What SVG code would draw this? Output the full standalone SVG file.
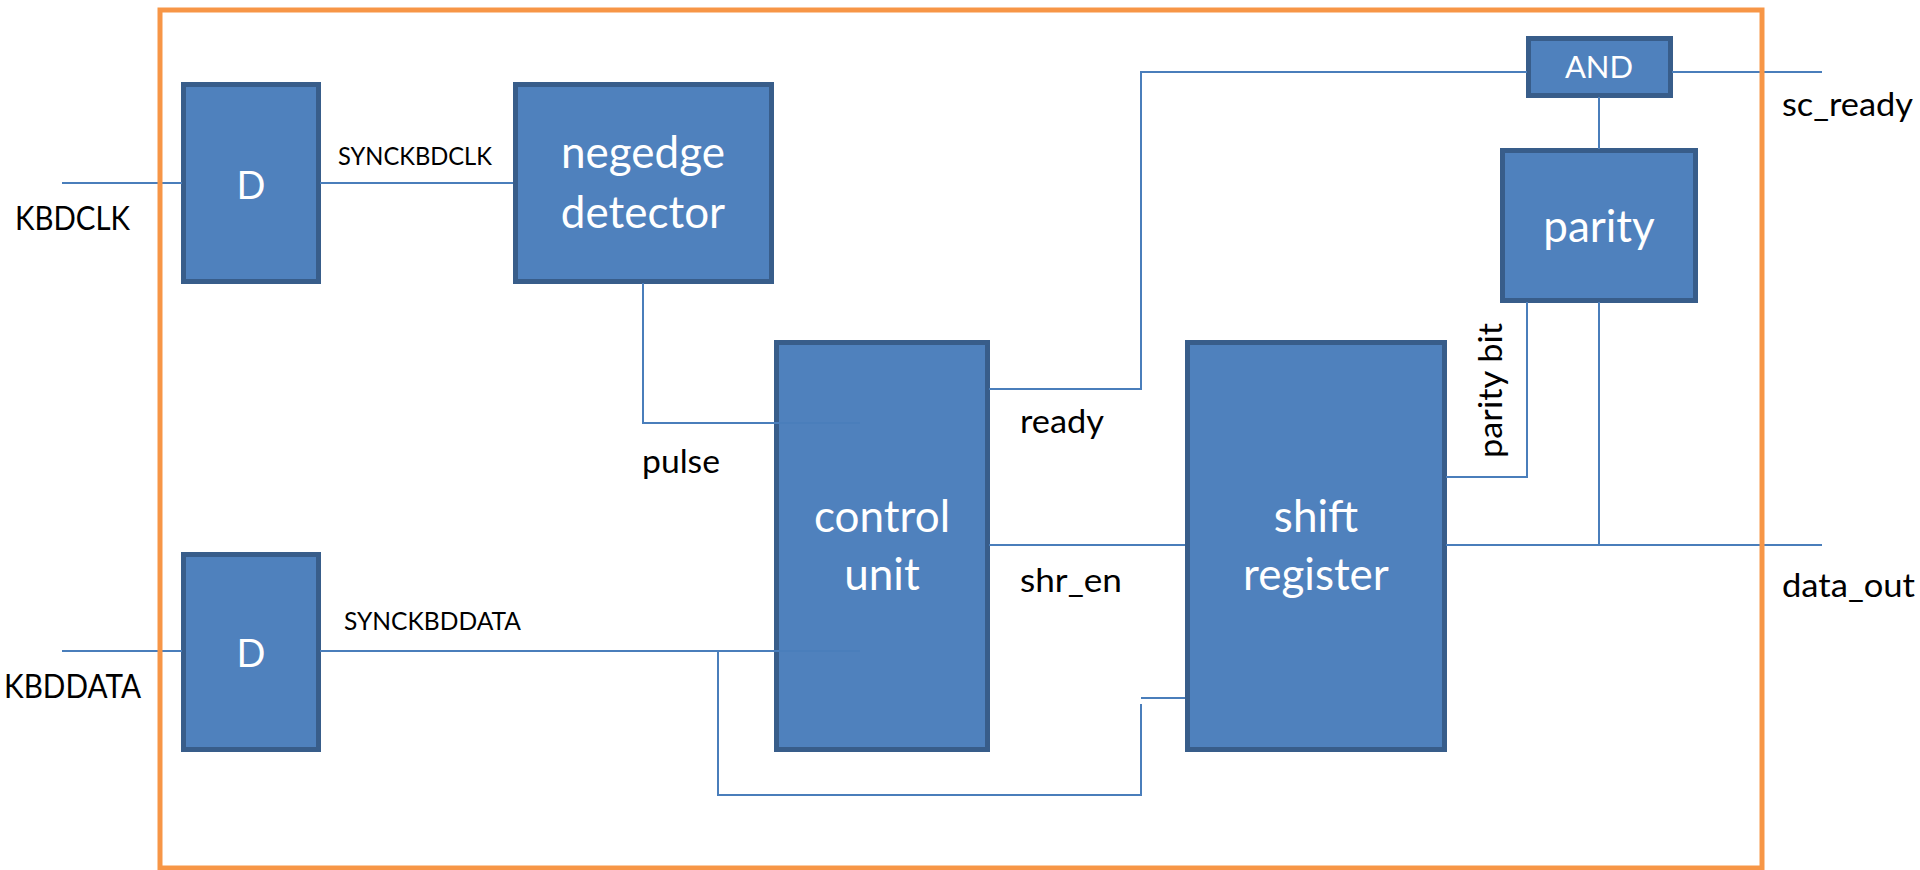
<svg xmlns="http://www.w3.org/2000/svg" width="1920" height="870" viewBox="0 0 1920 870">
  <style>
    .block { fill: #4F81BD; stroke: #385D8A; stroke-width: 5; }
    .btxt { fill: #FFFFFF; font-family: Lato, "Open Sans", sans-serif; text-anchor: middle; }
    .lbl { fill: #000000; font-family: Lato, "Open Sans", sans-serif; font-size: 33px; }
    .sig { fill: #000000; font-family: Lato, "Open Sans", sans-serif; font-size: 25px; }
    .wire { fill: none; stroke: #4A7EBB; stroke-width: 2; }
    .frame { fill: none; stroke: #F79646; stroke-width: 5; }
  </style>

  <!-- functional blocks -->
  <g id="dff-clk">
    <rect class="block" x="183.5" y="84.5" width="135" height="197"/>
    <text class="btxt" x="251" y="199" font-size="38">D</text>
  </g>
  <g id="negedge-detector">
    <rect class="block" x="515.5" y="84.5" width="256" height="197"/>
    <text class="btxt" x="643" y="168" font-size="44">negedge</text>
    <text class="btxt" x="643" y="228" font-size="44">detector</text>
  </g>
  <g id="control-unit">
    <rect class="block" x="776.5" y="342.5" width="211" height="407"/>
    <text class="btxt" x="882" y="532" font-size="44">control</text>
    <text class="btxt" x="882" y="590" font-size="44">unit</text>
  </g>
  <g id="shift-register">
    <rect class="block" x="1187.5" y="342.5" width="257" height="407"/>
    <text class="btxt" x="1316" y="532" font-size="44">shift</text>
    <text class="btxt" x="1316" y="590" font-size="44">register</text>
  </g>
  <g id="dff-data">
    <rect class="block" x="183.5" y="554.5" width="135" height="195"/>
    <text class="btxt" x="251" y="667" font-size="38">D</text>
  </g>
  <g id="and-gate">
    <rect class="block" x="1528.5" y="38.5" width="142" height="57"/>
    <text class="btxt" x="1599" y="78" font-size="31">AND</text>
  </g>
  <g id="parity">
    <rect class="block" x="1502.5" y="150.5" width="193" height="150"/>
    <text class="btxt" x="1599" y="242" font-size="44">parity</text>
  </g>

  <!-- wiring -->
  <g id="connectors">
    <path class="wire" d="M62,183 H182"/>
    <path class="wire" d="M320,183 H513"/>
    <path class="wire" d="M643,283 V423 H860"/>
    <path class="wire" d="M62,651 H182"/>
    <path class="wire" d="M320,651 H860"/>
    <path class="wire" d="M718,651 V795 H1141 V704"/>
    <path class="wire" d="M1141,698 H1185"/>
    <path class="wire" d="M989,389 H1141 V72 H1527"/>
    <path class="wire" d="M1672,72 H1822"/>
    <path class="wire" d="M1599,97 V149"/>
    <path class="wire" d="M989,545 H1185"/>
    <path class="wire" d="M1446,477 H1527 V302"/>
    <path class="wire" d="M1446,545 H1822"/>
    <path class="wire" d="M1599,302 V545"/>
  </g>

  <!-- module boundary -->
  <rect class="frame" x="160" y="10" width="1602" height="858"/>

  <!-- signal labels -->
  <g id="labels">
    <text class="lbl" x="15" y="230" textLength="115" lengthAdjust="spacingAndGlyphs">KBDCLK</text>
    <text class="lbl" x="4" y="698" textLength="137" lengthAdjust="spacingAndGlyphs">KBDDATA</text>
    <text class="sig" x="338" y="165" textLength="154" lengthAdjust="spacingAndGlyphs">SYNCKBDCLK</text>
    <text class="sig" x="344" y="630" textLength="177" lengthAdjust="spacingAndGlyphs">SYNCKBDDATA</text>
    <text class="lbl" x="642" y="473" textLength="78" lengthAdjust="spacingAndGlyphs">pulse</text>
    <text class="lbl" x="1020" y="433" textLength="84" lengthAdjust="spacingAndGlyphs">ready</text>
    <text class="lbl" x="1020" y="592" textLength="102" lengthAdjust="spacingAndGlyphs">shr_en</text>
    <text class="lbl" x="1782" y="116" textLength="131" lengthAdjust="spacingAndGlyphs">sc_ready</text>
    <text class="lbl" x="1782" y="597" textLength="133" lengthAdjust="spacingAndGlyphs">data_out</text>
    <text class="lbl" transform="translate(1502,458) rotate(-90)" textLength="135" lengthAdjust="spacingAndGlyphs">parity bit</text>
  </g>
</svg>
